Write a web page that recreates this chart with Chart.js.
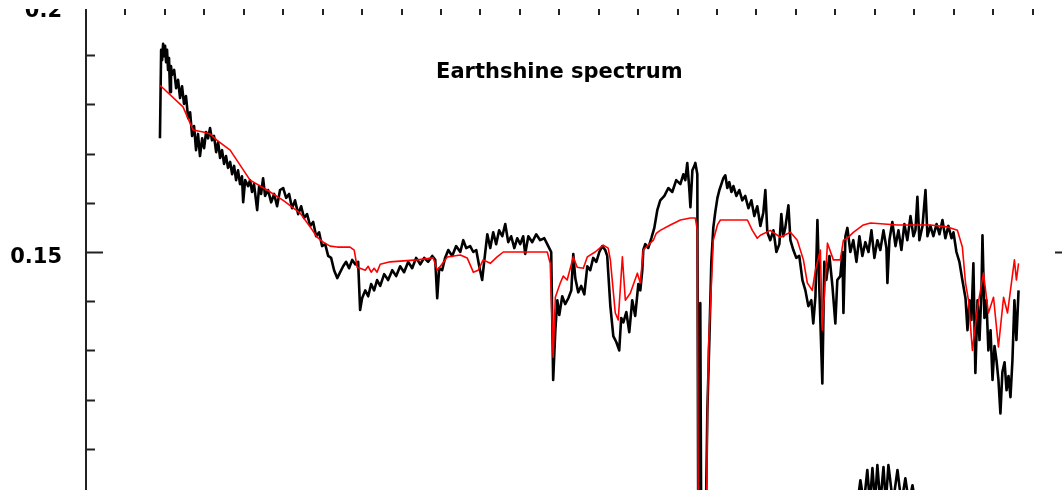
<!DOCTYPE html>
<html>
<head>
<meta charset="utf-8">
<title>Earthshine spectrum</title>
<script src="https://cdn.jsdelivr.net/npm/chart.js@4.4.1/dist/chart.umd.min.js"></script>
<style>
  html, body { margin: 0; padding: 0; background: #fff; overflow: hidden; }
  #wrap { position: absolute; left: 0; top: 0; width: 1090px; height: 510px; }
</style>
</head>
<body>
<div id="wrap"><canvas id="spectre" width="1090" height="510"></canvas></div>
<script>
// titre et axes
const titleText = "Earthshine spectrum";
const xMin = 450, xMax = 950;          // longueur d'onde (nm)
const yMin = 0.1, yMax = 0.2;
const yLabels = [0.15, 0.2];
const yTickStep = 0.01, yMajorStep = 0.05;
const xTickStep = 20, xMajorStep = 100;

// spectre observé (noir)
const obsWave = [
  487.5, 488.1, 488.6, 489.1, 489.6, 490.1, 490.6, 491.1, 491.6, 492.1,
  492.6, 493.1, 493.6, 494.7, 495.7, 496.7, 497.7, 498.7, 499.7, 500.7,
  501.8, 502.8, 503.8, 504.8, 505.8, 506.8, 507.8, 508.9, 509.9, 510.9,
  511.9, 512.9, 513.9, 514.9, 516.0, 517.0, 518.0, 519.0, 520.0, 521.0,
  522.0, 523.1, 524.1, 525.1, 526.1, 527.1, 528.1, 529.1, 529.7, 530.7,
  532.2, 533.2, 534.2, 535.2, 536.8, 537.8, 538.8, 539.8, 540.8, 542.3,
  543.9, 545.4, 546.9, 548.4, 550.0, 551.5, 553.0, 554.5, 556.0, 557.6,
  559.1, 560.6, 562.1, 563.7, 565.2, 566.7, 568.2, 569.7, 571.3, 572.8,
  574.3, 575.8, 577.4, 578.9, 580.4, 581.9, 583.4, 585.0, 586.5, 588.0,
  589.0, 590.0, 591.6, 593.1, 594.6, 596.1, 597.6, 599.2, 601.2, 603.2,
  605.3, 607.3, 609.3, 611.3, 613.4, 615.4, 617.4, 619.5, 621.5, 623.5,
  625.6, 627.1, 628.1, 629.1, 630.6, 632.1, 633.7, 635.7, 637.7, 639.8,
  641.3, 642.8, 644.8, 646.4, 647.9, 649.4, 650.9, 651.9, 653.5, 655.0,
  656.5, 658.0, 659.5, 661.1, 662.6, 664.1, 665.6, 667.2, 668.7, 670.2,
  671.7, 672.7, 674.3, 676.3, 678.3, 680.3, 682.4, 684.4, 685.9, 686.9,
  688.0, 689.0, 690.0, 691.5, 693.0, 694.6, 696.1, 697.1, 698.1, 699.6,
  701.1, 702.7, 704.2, 705.7, 707.2, 708.8, 710.3, 711.8, 713.3, 714.3,
  715.9, 717.4, 718.9, 720.4, 721.4, 722.5, 724.0, 725.5, 727.0, 728.5,
  730.1, 731.1, 732.1, 732.6, 733.6, 735.1, 736.7, 738.2, 739.7, 741.2,
  743.3, 745.3, 747.3, 749.3, 751.4, 752.9, 753.9, 754.9, 755.9, 756.5,
  757.5, 758.5, 759.0, 760.0, 760.5, 761.5, 762.0, 763.0, 764.1, 765.1,
  766.1, 767.1, 768.1, 769.1, 770.2, 771.2, 772.2, 773.2, 774.2, 775.2,
  776.2, 777.3, 778.3, 779.8, 781.3, 782.8, 784.3, 785.9, 787.4, 788.9,
  790.4, 792.0, 793.5, 794.5, 795.5, 797.0, 798.6, 800.1, 801.6, 802.6,
  803.6, 804.6, 806.2, 807.2, 808.7, 810.2, 811.7, 813.3, 814.8, 816.3,
  817.8, 818.8, 819.9, 820.9, 821.9, 823.4, 824.4, 825.4, 827.0, 828.5,
  830.0, 831.0, 832.5, 833.6, 834.1, 835.1, 836.1, 837.6, 839.1, 840.7,
  842.2, 843.7, 845.2, 846.8, 848.3, 849.8, 851.3, 852.8, 854.4, 855.9,
  856.4, 857.4, 858.9, 860.5, 862.0, 863.5, 865.0, 866.5, 868.1, 869.6,
  870.6, 871.6, 872.6, 874.2, 875.7, 876.7, 878.2, 879.7, 881.3, 882.8,
  884.3, 885.8, 887.3, 888.9, 889.9, 891.4, 892.9, 894.4, 896.0, 897.0,
  898.0, 899.0, 900.0, 901.0, 902.1, 903.1, 904.1, 904.6, 905.6, 906.6,
  907.6, 908.7, 909.7, 910.7, 911.7, 912.7, 913.7, 914.7, 915.8, 916.8,
  917.8, 918.8, 919.8, 920.8, 921.8, 922.9
];
const obsFlux = [
  0.1731, 0.1911, 0.1890, 0.1923, 0.1898, 0.1919, 0.1886, 0.1911, 0.1870, 0.1894,
  0.1825, 0.1878, 0.1860, 0.1870, 0.1833, 0.1850, 0.1813, 0.1837, 0.1801, 0.1817,
  0.1772, 0.1784, 0.1736, 0.1756, 0.1707, 0.1740, 0.1695, 0.1731, 0.1711, 0.1744,
  0.1731, 0.1752, 0.1727, 0.1736, 0.1703, 0.1723, 0.1691, 0.1707, 0.1679, 0.1695,
  0.1671, 0.1683, 0.1658, 0.1675, 0.1646, 0.1666, 0.1638, 0.1654, 0.1601, 0.1646,
  0.1634, 0.1646, 0.1622, 0.1638, 0.1585, 0.1634, 0.1618, 0.1650, 0.1614, 0.1626,
  0.1601, 0.1618, 0.1593, 0.1626, 0.1630, 0.1610, 0.1618, 0.1589, 0.1605, 0.1577,
  0.1593, 0.1569, 0.1577, 0.1553, 0.1561, 0.1532, 0.1540, 0.1512, 0.1516, 0.1492,
  0.1488, 0.1463, 0.1447, 0.1459, 0.1471, 0.1480, 0.1467, 0.1484, 0.1475, 0.1480,
  0.1382, 0.1406, 0.1422, 0.1410, 0.1435, 0.1422, 0.1443, 0.1431, 0.1455, 0.1443,
  0.1463, 0.1451, 0.1471, 0.1459, 0.1480, 0.1467, 0.1488, 0.1475, 0.1488, 0.1480,
  0.1492, 0.1484, 0.1406, 0.1467, 0.1463, 0.1488, 0.1504, 0.1492, 0.1512, 0.1500,
  0.1524, 0.1508, 0.1512, 0.1500, 0.1504, 0.1471, 0.1443, 0.1480, 0.1536, 0.1508,
  0.1540, 0.1516, 0.1544, 0.1532, 0.1557, 0.1520, 0.1532, 0.1508, 0.1528, 0.1516,
  0.1532, 0.1496, 0.1532, 0.1520, 0.1536, 0.1524, 0.1528, 0.1512, 0.1500, 0.1240,
  0.1341, 0.1402, 0.1372, 0.1410, 0.1394, 0.1406, 0.1422, 0.1496, 0.1447, 0.1418,
  0.1431, 0.1414, 0.1471, 0.1463, 0.1488, 0.1480, 0.1500, 0.1512, 0.1504, 0.1492,
  0.1390, 0.1329, 0.1317, 0.1300, 0.1366, 0.1357, 0.1378, 0.1337, 0.1402, 0.1370,
  0.1435, 0.1422, 0.1463, 0.1504, 0.1516, 0.1508, 0.1528, 0.1549, 0.1585, 0.1605,
  0.1614, 0.1630, 0.1622, 0.1646, 0.1638, 0.1658, 0.1646, 0.1681, 0.1630, 0.1591,
  0.1666, 0.1675, 0.1681, 0.1658, 0.0900, 0.1396, 0.0900, 0.0900, 0.0900, 0.1179,
  0.1321, 0.1480, 0.1549, 0.1581, 0.1610, 0.1626, 0.1638, 0.1650, 0.1656, 0.1630,
  0.1642, 0.1622, 0.1634, 0.1614, 0.1626, 0.1605, 0.1614, 0.1589, 0.1605, 0.1573,
  0.1593, 0.1553, 0.1581, 0.1626, 0.1540, 0.1524, 0.1544, 0.1500, 0.1516, 0.1577,
  0.1532, 0.1549, 0.1595, 0.1524, 0.1504, 0.1488, 0.1492, 0.1443, 0.1422, 0.1390,
  0.1402, 0.1355, 0.1410, 0.1565, 0.1422, 0.1233, 0.1480, 0.1443, 0.1492, 0.1431,
  0.1355, 0.1443, 0.1451, 0.1500, 0.1376, 0.1532, 0.1549, 0.1500, 0.1524, 0.1480,
  0.1532, 0.1492, 0.1520, 0.1500, 0.1544, 0.1488, 0.1524, 0.1504, 0.1544, 0.1508,
  0.1437, 0.1524, 0.1561, 0.1512, 0.1544, 0.1504, 0.1557, 0.1524, 0.1573, 0.1532,
  0.1544, 0.1612, 0.1524, 0.1553, 0.1626, 0.1532, 0.1553, 0.1532, 0.1557, 0.1536,
  0.1565, 0.1528, 0.1553, 0.1528, 0.1540, 0.1500, 0.1480, 0.1443, 0.1406, 0.1341,
  0.1402, 0.1362, 0.1477, 0.1254, 0.1402, 0.1321, 0.1422, 0.1534, 0.1366, 0.1402,
  0.1300, 0.1341, 0.1240, 0.1309, 0.1280, 0.1240, 0.1172, 0.1256, 0.1276, 0.1219,
  0.1248, 0.1205, 0.1280, 0.1402, 0.1321, 0.1422
];

// modèle (rouge)
const modelWave = [
  487.5, 499.2, 504.3, 509.4, 512.9, 516.5, 523.1, 533.2, 541.8, 550.0,
  558.6, 563.7, 567.2, 570.3, 573.8, 577.4, 583.9, 586.0, 587.5, 589.0,
  591.6, 593.1, 594.6, 596.1, 597.6, 599.2, 604.2, 617.9, 626.1, 628.1,
  630.1, 633.2, 639.8, 643.3, 646.4, 648.9, 651.4, 655.0, 658.5, 661.6,
  683.9, 685.4, 686.9, 688.0, 690.5, 692.0, 694.0, 697.1, 699.1, 702.2,
  704.2, 708.2, 712.3, 714.8, 715.9, 718.4, 719.9, 722.0, 723.5, 726.0,
  729.6, 731.1, 732.6, 735.1, 737.7, 739.2, 741.2, 746.3, 751.4, 756.5,
  759.0, 760.0, 760.5, 764.6, 765.1, 765.6, 767.6, 768.1, 770.2, 771.7,
  785.4, 787.9, 790.4, 792.0, 797.0, 802.1, 807.2, 810.7, 813.8, 815.8,
  818.3, 819.9, 822.4, 823.4, 826.0, 829.0, 832.5, 834.1, 836.1, 839.1,
  844.2, 847.8, 861.5, 878.2, 886.8, 891.9, 894.4, 896.0, 897.5, 899.5,
  902.1, 903.6, 905.1, 907.6, 910.2, 912.7, 915.3, 917.3, 918.8, 920.8,
  921.8, 922.9
];
const modelFlux = [
  0.1839, 0.1795, 0.1748, 0.1744, 0.1740, 0.1727, 0.1707, 0.1646, 0.1626, 0.1605,
  0.1579, 0.1551, 0.1530, 0.1520, 0.1512, 0.1510, 0.1510, 0.1504, 0.1469, 0.1467,
  0.1463, 0.1471, 0.1459, 0.1467, 0.1459, 0.1475, 0.1480, 0.1484, 0.1488, 0.1463,
  0.1473, 0.1490, 0.1494, 0.1488, 0.1459, 0.1463, 0.1484, 0.1477, 0.1490, 0.1500,
  0.1500, 0.1477, 0.1286, 0.1408, 0.1437, 0.1451, 0.1443, 0.1490, 0.1469, 0.1467,
  0.1490, 0.1500, 0.1514, 0.1508, 0.1484, 0.1376, 0.1362, 0.1490, 0.1402, 0.1416,
  0.1457, 0.1437, 0.1504, 0.1514, 0.1524, 0.1538, 0.1544, 0.1555, 0.1565, 0.1569,
  0.1569, 0.1544, 0.0900, 0.0900, 0.1164, 0.1300, 0.1477, 0.1524, 0.1555, 0.1565,
  0.1565, 0.1544, 0.1528, 0.1534, 0.1544, 0.1530, 0.1540, 0.1524, 0.1484, 0.1437,
  0.1422, 0.1463, 0.1504, 0.1341, 0.1518, 0.1484, 0.1484, 0.1524, 0.1528, 0.1540,
  0.1555, 0.1559, 0.1555, 0.1555, 0.1551, 0.1544, 0.1510, 0.1437, 0.1402, 0.1300,
  0.1388, 0.1422, 0.1457, 0.1376, 0.1408, 0.1307, 0.1408, 0.1376, 0.1422, 0.1484,
  0.1443, 0.1477
];

// courbe du bas (coupée par le cadre)
const residWave = [
  841.2, 842.7, 844.5, 846.2, 847.5, 848.8, 850.1, 851.3, 852.8, 854.4,
  855.6, 856.9, 859.2, 861.5, 863.5, 865.5, 867.3, 869.1, 870.6
];
const residFlux = [
  0.0990, 0.1036, 0.0990, 0.1057, 0.0990, 0.1061, 0.0990, 0.1067, 0.0990, 0.1063,
  0.0990, 0.1067, 0.0990, 0.1057, 0.0990, 0.1040, 0.0990, 0.1026, 0.0990
];

const toPoints = (w, f) => w.map((v, i) => ({ x: v, y: f[i] }));

/* Cadre: ticks vers l'intérieur + titre */
const cadre = {
  id: 'cadre',
  afterDatasetsDraw(chart) {
    const { ctx, chartArea: a, scales: { x, y } } = chart;
    ctx.save();
    ctx.strokeStyle = '#222';
    ctx.lineWidth = 2;
    ctx.beginPath();
    ctx.moveTo(a.left, a.top); ctx.lineTo(a.left, a.bottom);
    ctx.moveTo(a.right, a.top); ctx.lineTo(a.right, a.bottom);

    const nY = Math.round((yMax - yMin) / yTickStep);
    for (let i = 0; i < nY; i++) {
      const v = yMin + i * yTickStep;
      const py = Math.round(y.getPixelForValue(v)) + 0.5;
      const major = Math.abs(v / yMajorStep - Math.round(v / yMajorStep)) < 1e-6;
      const len = major ? 17 : 9;
      ctx.moveTo(a.left, py); ctx.lineTo(a.left + len, py);
      ctx.moveTo(a.right, py); ctx.lineTo(a.right - len, py);
    }

    for (let w = xMin + xTickStep; w < xMax; w += xTickStep) {
      const px = Math.round(x.getPixelForValue(w));
      const len = (w % xMajorStep === 0) ? 17 : 9;
      ctx.moveTo(px, a.top); ctx.lineTo(px, a.top + len);
    }
    ctx.stroke();

    ctx.fillStyle = '#000';
    ctx.font = 'bold 21px "DejaVu Sans"';
    ctx.textAlign = 'center';
    ctx.textBaseline = 'alphabetic';
    ctx.fillText(titleText, a.left + a.width * 0.48, a.top + 72);
    ctx.restore();
  },
  // le haut de la figure est rogné comme sur l'original
  afterDraw(chart) {
    const { ctx } = chart;
    ctx.save();
    ctx.fillStyle = '#fff';
    ctx.fillRect(0, 0, chart.width, 9);
    ctx.restore();
  }
};

const ctx = document.getElementById('spectre').getContext('2d');
const spectre = new Chart(ctx, {
  type: 'line',
  data: {
    datasets: [
      {
        label: 'Modèle',
        data: toPoints(modelWave, modelFlux),
        borderColor: '#ff0000',
        borderWidth: 1.6,
        order: 0
      },
      {
        label: 'Observé',
        data: toPoints(obsWave, obsFlux),
        borderColor: '#000000',
        borderWidth: 2.6,
        order: 1
      },
      {
        label: 'Bas',
        data: toPoints(residWave, residFlux),
        borderColor: '#000000',
        borderWidth: 2.6,
        order: 2
      }
    ]
  },
  options: {
    responsive: false,
    animation: false,
    devicePixelRatio: 1,
    layout: { padding: { left: 0, top: 6, right: 18, bottom: 12 } },
    elements: {
      point: { radius: 0 },
      line: { tension: 0, borderJoinStyle: 'round', fill: false }
    },
    plugins: {
      legend: { display: false },
      tooltip: { enabled: false }
    },
    scales: {
      x: {
        type: 'linear',
        min: xMin,
        max: xMax,
        display: false
      },
      y: {
        min: yMin,
        max: yMax,
        grid: { display: false, drawTicks: false },
        border: { display: false },
        afterBuildTicks: (scale) => { scale.ticks = yLabels.map(v => ({ value: v })); },
        afterFit: (scale) => { scale.width = 86; scale.paddingTop = 0; scale.paddingBottom = 0; },
        ticks: {
          padding: 24,
          labelOffset: 6,
          color: '#000',
          font: { family: 'DejaVu Sans', size: 21, weight: 'bold' },
          callback: (v) => String(v)
        }
      }
    }
  },
  plugins: [cadre]
});
</script>
</body>
</html>
